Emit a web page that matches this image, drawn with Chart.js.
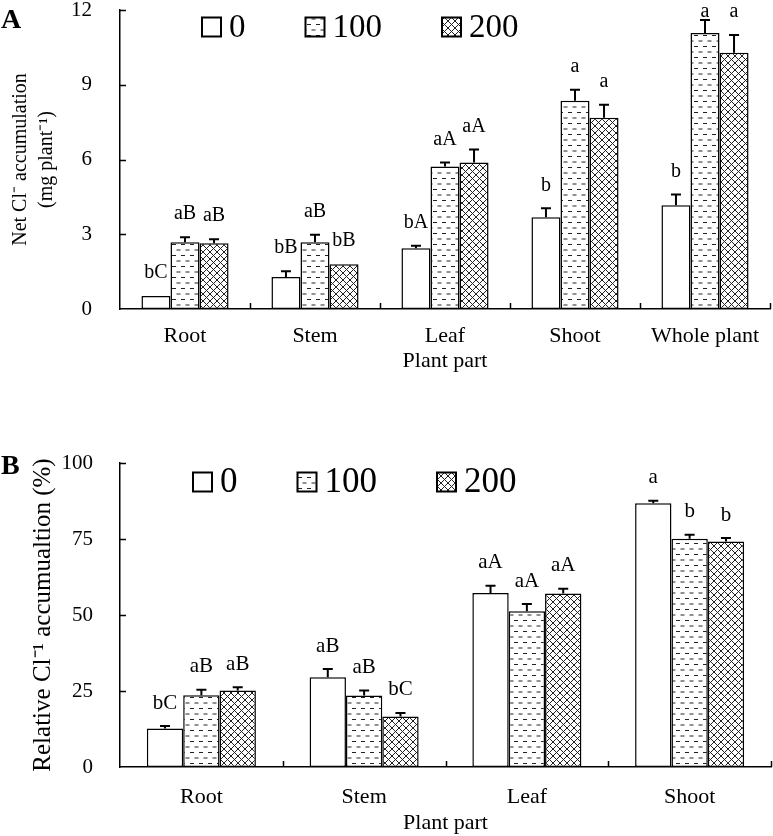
<!DOCTYPE html>
<html>
<head>
<meta charset="utf-8">
<script src="https://cdn.jsdelivr.net/npm/chart.js@4.4.0/dist/chart.umd.min.js"></script>
<style>
  html, body { margin: 0; padding: 0; background: #fff; }
  .wrap { position: absolute; left: 0; width: 773px; }
  #wrapA { top: 0; height: 420px; }
  #wrapB { top: 420px; height: 416px; }
</style>
</head>
<body>
<div class="wrap" id="wrapA"><canvas id="chartA" width="773" height="420"></canvas></div>
<div class="wrap" id="wrapB"><canvas id="chartB" width="773" height="416"></canvas></div>
<script>
// NaCl treatments (legend)
const treatments = ['0', '100', '200'];

// Panel A : net Cl- accumulation (mg plant-1)
const partsA = ['Root', 'Stem', 'Leaf', 'Shoot', 'Whole plant'];
const netCl0   = [0.52, 1.28, 2.44, 3.68, 4.16];
const netCl100 = [2.68, 2.68, 5.72, 8.36, 11.08];
const netCl200 = [2.64, 1.80, 5.88, 7.68, 10.28];
const netErr0   = [0, 0.24, 0.10, 0.36, 0.44];
const netErr100 = [0.20, 0.30, 0.16, 0.44, 0.52];
const netErr200 = [0.16, 0, 0.52, 0.52, 0.72];
const netLet0   = ['bC', 'bB', 'bA', 'b', 'b'];
const netLet100 = ['aB', 'aB', 'aA', 'a', 'a'];
const netLet200 = ['aB', 'bB', 'aA', 'a', 'a'];
const ticksA = [0, 3, 6, 9, 12];

// Panel B : relative Cl- accumulation (%)
const partsB = ['Root', 'Stem', 'Leaf', 'Shoot'];
const rel0   = [12.7, 29.5, 57.2, 86.8];
const rel100 = [23.6, 23.5, 51.2, 75.1];
const rel200 = [25.2, 16.6, 57.1, 74.2];
const relErr0   = [0.75, 2.7, 2.4, 0.8];
const relErr100 = [1.8, 1.7, 2.4, 1.3];
const relErr200 = [1.0, 1.2, 1.5, 1.1];
const relLet0   = ['bC', 'aB', 'aA', 'a'];
const relLet100 = ['aB', 'aB', 'aA', 'b'];
const relLet200 = ['aB', 'bC', 'aA', 'b'];
const ticksB = [0, 25, 50, 75, 100];

const FONT = "'Liberation Serif', 'Times New Roman', serif";

function makePattern(kind) {
  const c = document.createElement('canvas');
  const g = c.getContext('2d');
  if (kind === 'dash') {
    c.width = 9; c.height = 11;
    g.fillStyle = '#fff'; g.fillRect(0, 0, 9, 11);
    g.strokeStyle = '#222'; g.lineWidth = 1;
    g.beginPath();
    g.moveTo(1, 2.5); g.lineTo(5, 2.5);
    g.moveTo(5.5, 8); g.lineTo(9, 8);
    g.moveTo(0, 8); g.lineTo(0.5, 8);
    g.stroke();
  } else if (kind === 'cross') {
    c.width = 7; c.height = 7;
    g.fillStyle = '#fff'; g.fillRect(0, 0, 7, 7);
    g.strokeStyle = '#222'; g.lineWidth = 1;
    g.beginPath();
    g.moveTo(-1, -1); g.lineTo(8, 8);
    g.moveTo(8, -1); g.lineTo(-1, 8);
    g.stroke();
  } else {
    c.width = 2; c.height = 2;
    g.fillStyle = '#fff'; g.fillRect(0, 0, 2, 2);
  }
  return g.createPattern(c, 'repeat');
}
const fills = [makePattern('plain'), makePattern('dash'), makePattern('cross')];

// inward ticks, error bars, letters, legend and panel letter
const decor = {
  id: 'decor',
  afterDraw(chart, args, o) {
    const ctx = chart.ctx;
    const xs = chart.scales.x, ys = chart.scales.y;
    ctx.save();
    ctx.strokeStyle = '#000';
    ctx.lineWidth = 1.5;
    ctx.beginPath();
    ys.ticks.forEach(t => {
      if (t.value === 0) return;
      const py = Math.round(ys.getPixelForValue(t.value)) + 0.5;
      ctx.moveTo(xs.left, py); ctx.lineTo(xs.left + 6, py);
    });
    for (let i = 0; i < xs.ticks.length; i++) {
      const px = Math.round(xs.getPixelForValue(i + 0.5)) + 0.5;
      ctx.moveTo(px, ys.bottom); ctx.lineTo(px, ys.bottom - 6);
    }
    ctx.stroke();

    ctx.font = o.letterSize + 'px ' + FONT;
    ctx.fillStyle = '#000';
    ctx.textAlign = 'center';
    ctx.textBaseline = 'middle';
    chart.data.datasets.forEach((ds, di) => {
      chart.getDatasetMeta(di).data.forEach((bar, j) => {
        const e = o.errors[di][j];
        const pt = ys.getPixelForValue(ds.data[j] + e);
        if (e > 0) {
          ctx.lineWidth = 2;
          ctx.beginPath();
          ctx.moveTo(bar.x, bar.y); ctx.lineTo(bar.x, pt);
          ctx.moveTo(bar.x - 5, pt); ctx.lineTo(bar.x + 5, pt);
          ctx.stroke();
        }
        ctx.fillText(o.letters[di][j], bar.x, Math.max(pt - 23, 12));
      });
    });

    // legend inside plot
    ctx.font = o.legendSize + 'px ' + FONT;
    ctx.textAlign = 'left';
    let lx = o.legendX;
    const box = 19;
    chart.data.datasets.forEach(ds => {
      ctx.fillStyle = ds.backgroundColor;
      ctx.fillRect(lx, o.legendY - box / 2, box, box);
      ctx.lineWidth = 2;
      ctx.strokeRect(lx, o.legendY - box / 2, box, box);
      ctx.fillStyle = '#000';
      ctx.fillText(ds.label, lx + box + 8, o.legendY + 1);
      lx += box + 8 + ctx.measureText(ds.label).width + 60;
    });

    ctx.font = 'bold 28px ' + FONT;
    ctx.fillText(o.panel, 1, o.panelY);
    ctx.restore();
  }
};

function build(id, cfg) {
  const datasets = cfg.series.map((d, i) => ({
    label: treatments[i],
    data: d,
    backgroundColor: fills[i],
    borderColor: '#000',
    borderWidth: 1.5,
    borderSkipped: false,
    categoryPercentage: 0.67,
    barPercentage: 1
  }));
  return new Chart(document.getElementById(id), {
    type: 'bar',
    data: { labels: cfg.labels, datasets: datasets },
    plugins: [decor],
    options: {
      responsive: false,
      animation: false,
      devicePixelRatio: 1,
      layout: { padding: cfg.padding },
      plugins: {
        legend: { display: false },
        tooltip: { enabled: false },
        decor: cfg.decor
      },
      scales: {
        x: {
          grid: { display: false, drawTicks: false },
          border: { display: true, color: '#000', width: 1.5 },
          ticks: { color: '#000', font: { family: FONT, size: 22 }, padding: cfg.xPad },
          title: { display: true, text: 'Plant part', color: '#000',
                   font: { family: FONT, size: 22 }, padding: { top: 0, bottom: cfg.xTitlePad } },
          afterFit: s => { s.height = cfg.xHeight; s.paddingLeft = 0; s.paddingRight = 0; }
        },
        y: {
          min: cfg.ticks[0],
          max: cfg.ticks[cfg.ticks.length - 1],
          afterBuildTicks: s => { s.ticks = cfg.ticks.map(v => ({ value: v })); },
          grid: { display: false, drawTicks: false },
          border: { display: true, color: '#000', width: 1.5 },
          ticks: { color: '#000', font: { family: FONT, size: 21 }, padding: cfg.yPad },
          title: { display: true, text: cfg.yTitle, color: '#000',
                   font: { family: FONT, size: cfg.yTitleSize, lineHeight: cfg.yTitleLh },
                   padding: { top: cfg.yTitlePad, bottom: 0 } },
          afterFit: s => { s.width = 120; s.paddingTop = 0; s.paddingBottom = 0; }
        }
      }
    }
  });
}

build('chartA', {
  labels: partsA,
  series: [netCl0, netCl100, netCl200],
  ticks: ticksA,
  padding: { top: 10, right: 3, bottom: 0, left: 0 },
  xHeight: 111, xPad: 14, xTitlePad: 46,
  yPad: 28, yTitlePad: 8, yTitleSize: 20, yTitleLh: 1.3,
  yTitle: ['Net Cl\u207B accumulation', '(mg plant\u207B\u00B9)'],
  decor: {
    errors: [netErr0, netErr100, netErr200],
    letters: [netLet0, netLet100, netLet200],
    letterSize: 20, legendSize: 33,
    legendX: 202, legendY: 27, panel: 'A', panelY: 21
  }
});

build('chartB', {
  labels: partsB,
  series: [rel0, rel100, rel200],
  ticks: ticksB,
  padding: { top: 43, right: 2, bottom: 0, left: 0 },
  xHeight: 69, xPad: 17, xTitlePad: 0,
  yPad: 27, yTitlePad: 28, yTitleSize: 25, yTitleLh: 1.2,
  yTitle: 'Relative Cl\u207B\u00B9 accumualtion (%)',
  decor: {
    errors: [relErr0, relErr100, relErr200],
    letters: [relLet0, relLet100, relLet200],
    letterSize: 21, legendSize: 35,
    legendX: 193, legendY: 62, panel: 'B', panelY: 47
  }
});
</script>
</body>
</html>
